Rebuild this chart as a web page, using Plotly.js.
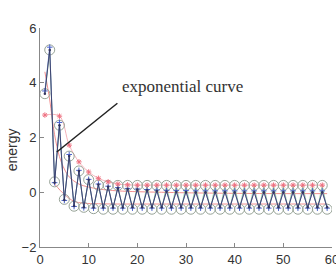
<!DOCTYPE html>
<html><head><meta charset="utf-8">
<script src="https://cdn.plot.ly/plotly-3.0.1.min.js"></script>
<style>html,body{margin:0;padding:0;background:#fff}#c{width:336px;height:271px}</style>
</head><body><div id="c"></div>
<script>
// iteration index
var steps = [1,2,3,4,5,6,7,8,9,10,11,12,13,14,15,16,17,18,19,20,21,22,23,24,25,26,27,28,29,30,
             31,32,33,34,35,36,37,38,39,40,41,42,43,44,45,46,47,48,49,50,51,52,53,54,55,56,57,58,59];
// main (dark) series
var energyMain = [3.6,5.2,0.35,2.45,-0.28,1.32,-0.5,0.78,-0.55,0.46,-0.56,0.28,-0.56,0.2,-0.56,0.15,-0.56,0.12,-0.55,0.1,
                  -0.55,0.07,-0.55,0.05,-0.55,0.03,-0.55,0.02,-0.55,0.01,-0.55,0.0,-0.55,0.0,-0.55,0.0,-0.55,0.0,-0.55,0.0,
                  -0.55,0.0,-0.55,0.0,-0.55,0.0,-0.55,0.0,-0.55,0.0,-0.55,0.0,-0.55,0.0,-0.55,0.0,-0.55,0.0,-0.55];
// blue series
var energyBlue = [3.7,5.3,0.35,2.55,-0.3,1.38,-0.52,0.8,-0.57,0.47,-0.58,0.3,-0.58,0.22,-0.58,0.17,-0.58,0.14,-0.58,0.12,
                  -0.58,0.1,-0.58,0.08,-0.58,0.07,-0.58,0.06,-0.58,0.06,-0.58,0.05,-0.58,0.05,-0.58,0.05,-0.58,0.05,-0.58,0.05,
                  -0.58,0.05,-0.58,0.05,-0.58,0.05,-0.58,0.05,-0.58,0.05,-0.58,0.05,-0.58,0.05,-0.58,0.05,-0.58,0.05,-0.58];
// circle / green series
var energyCirc = [3.6,5.2,0.38,2.45,-0.26,1.32,-0.51,0.78,-0.55,0.46,-0.6,0.26,-0.62,0.25,-0.62,0.25,-0.62,0.25,-0.62,0.25,
                  -0.62,0.25,-0.62,0.25,-0.62,0.25,-0.62,0.25,-0.62,0.25,-0.62,0.25,-0.62,0.25,-0.62,0.25,-0.62,0.25,-0.62,0.25,
                  -0.62,0.25,-0.62,0.25,-0.62,0.25,-0.62,0.25,-0.62,0.25,-0.62,0.25,-0.62,0.25,-0.62,0.25,-0.62,0.25,-0.62];
// red asterisks (upper points) and the pink line through them
var starSteps = [1,4,6,8,10,12,14,16,18,20,22,24,26,28,30,32,34,36,38,40,42,44,46,48,50,52,54,56,58];
var starEnergy = [2.82,2.78,1.72,1.11,0.74,0.51,0.38,0.3,0.27,0.26,0.26,0.26,0.26,0.26,0.26,0.26,0.26,0.26,0.26,0.26,0.26,0.26,0.26,0.26,0.26,0.26,0.26,0.26,0.26];
// exponential curve (decaying pink)
var expSteps = [1,2,3,4,5,6,8,10,12,14,16,20,25,30,40,50,59];
var expCurve = [4.4,3.37,2.1,1.3,0.85,0.56,0.3,0.19,0.12,0.08,0.05,0.02,0.0,-0.02,-0.04,-0.05,-0.05];
// lower pink curve
var lowSteps = [3,5,7,9,12,16,20,30,40,50,59];
var expLower = [0.3,-0.08,-0.33,-0.4,-0.42,-0.43,-0.43,-0.43,-0.43,-0.43,-0.43];

var data = [
  {x: expSteps, y: expCurve, mode:'lines', line:{color:'#f29090', width:1, shape:'spline'}, hoverinfo:'none'},
  {x: lowSteps, y: expLower, mode:'lines', line:{color:'#f29090', width:1, shape:'spline'}, hoverinfo:'none'},
  {x: starSteps, y: starEnergy, mode:'lines', line:{color:'#f4a0a8', width:0.8, shape:'spline'}, hoverinfo:'none'},
  {x: steps, y: energyCirc, mode:'lines+markers', line:{color:'#7cc07c', width:0.7},
   marker:{symbol:'circle-open', size:10, color:'#97a397', line:{width:1}}},
  {x: steps, y: energyBlue, mode:'lines+markers', line:{color:'#4a62cc', width:0.7},
   marker:{symbol:'cross-thin-open', size:4, color:'#4a62cc', line:{width:1}}},
  {x: steps, y: energyMain, mode:'lines+markers', line:{color:'#34345c', width:0.8},
   marker:{symbol:'circle', size:2.5, color:'#34345c'}},
  {x: starSteps, y: starEnergy, mode:'markers',
   marker:{symbol:'asterisk-open', size:4.5, color:'#ee7080', line:{width:1, color:'#ee7080'}}}
];

var layout = {
  width:336, height:271, showlegend:false,
  paper_bgcolor:'#fff', plot_bgcolor:'#fff',
  margin:{l:40, r:4, t:28, b:24},
  font:{family:'Liberation Sans, Arial, sans-serif', size:13, color:'#333'},
  xaxis:{range:[0,60], tickvals:[0,10,20,30,40,50,60], ticks:'inside', ticklen:4, tickcolor:'#888',
         showline:true, linecolor:'#888', linewidth:1, showgrid:false, zeroline:false,
         ticklabeloverflow:'allow', tickfont:{size:13, color:'#333'}},
  yaxis:{range:[-2,6], tickvals:[-2,0,2,4,6], ticks:'inside', ticklen:4, tickcolor:'#888',
         showline:true, linecolor:'#888', linewidth:1, showgrid:false, zeroline:false,
         tickfont:{size:13, color:'#333'}},
  shapes:[{type:'line', xref:'x', yref:'y', x0:3.45, y0:1.47, x1:15.9, y1:3.25, line:{color:'#222', width:1.5}}],
  annotations:[
    {text:'exponential curve', xref:'x', yref:'y', x:16.5, y:3.85, xanchor:'left', yanchor:'middle', showarrow:false,
     font:{family:'Liberation Serif, Times New Roman, serif', size:17, color:'#333'}},
    {text:'energy', xref:'paper', yref:'y', x:-0.095, y:1.54, xanchor:'center', yanchor:'middle', textangle:-90, showarrow:false,
     font:{size:14, color:'#333'}}
  ]
};
Plotly.newPlot('c', data, layout, {staticPlot:true, displayModeBar:false});
</script></body></html>
